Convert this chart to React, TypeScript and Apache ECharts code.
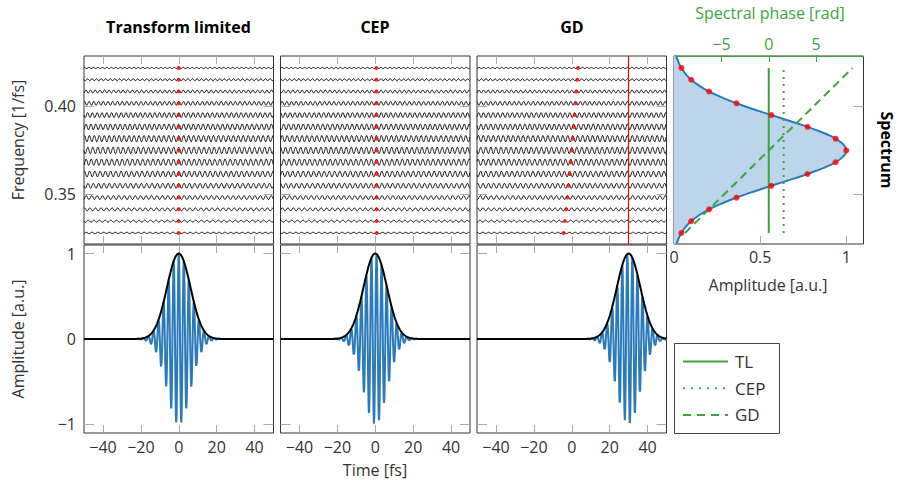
import React, { useEffect, useRef } from 'react';
import * as echarts from 'echarts';

// ---- data ----
const frequencies = [0.3281, 0.3348, 0.3415, 0.3482, 0.3549, 0.3616, 0.3683, 0.375, 0.3817, 0.3884, 0.3951, 0.4018, 0.4085, 0.4152, 0.4219]; // 1/fs
// spectral intensity as drawn in the "Spectrum" panel (the field amplitude is its square root)
const spectrum = [0.043, 0.1, 0.204, 0.363, 0.565, 0.775, 0.938, 1.0, 0.938, 0.775, 0.565, 0.363, 0.204, 0.1, 0.043];
const phaseTL = [0, 0, 0, 0, 0, 0, 0, 0, 0, 0, 0, 0, 0, 0, 0];
const phaseCEP = [1.57, 1.57, 1.57, 1.57, 1.57, 1.57, 1.57, 1.57, 1.57, 1.57, 1.57, 1.57, 1.57, 1.57, 1.57];
const phaseGD = [-8.84, -7.58, -6.32, -5.05, -3.79, -2.53, -1.26, 0, 1.26, 2.53, 3.79, 5.05, 6.32, 7.58, 8.84];
const groupDelay = 30; // fs
const spectrumEdgeBottom = [0.014, 0.3218];
const spectrumEdgeTop = [0.012, 0.4287];
const panelTitles = ['Transform limited', 'CEP', 'GD'];
const timeTicks = [-40, -20, 0, 20, 40];
const freqTicks = [0.35, 0.4];
const fieldTicks = [-1, 0, 1];
const specAmpTicks = [0, 0.5, 1];
const phaseTicks = [-5, 0, 5];
const legendNames = ['TL', 'CEP', 'GD'];

const FONT = "'Open Sans', 'Noto Sans', sans-serif";
const GREEN = '#3ca53c';
const BLUE = '#2b7bba';
const FILL = '#bcd5ea';
const RED = '#ff0000';
const TICK = '#aaaaaa';

const T_MIN = -50, T_MAX = 50;
const F_MIN = 0.3218, F_MAX = 0.4287;
const WAVE_SCALE = 0.0019;

const times: number[] = [];
for (let k = 0; k <= 1000; k++) times.push(T_MIN + k * 0.1);

const fieldAmp = spectrum.map((s) => Math.sqrt(s));

// spectral statistics derived from the read spectrum (centre and width of the intensity)
const iSum = spectrum.reduce((a, b) => a + b, 0);
const fCentre = spectrum.reduce((a, s, i) => a + s * frequencies[i], 0) / iSum;
const iVar = spectrum.reduce((a, s, i) => a + s * (frequencies[i] - fCentre) ** 2, 0) / iSum;
const fieldSigma = Math.sqrt(2 * iVar);

function phaseFit(phases: number[]) {
  const n = phases.length;
  const mf = frequencies.reduce((a, b) => a + b, 0) / n;
  const mp = phases.reduce((a, b) => a + b, 0) / n;
  let num = 0, den = 0;
  for (let i = 0; i < n; i++) { num += (frequencies[i] - mf) * (phases[i] - mp); den += (frequencies[i] - mf) ** 2; }
  const slope = num / den;
  return (f: number) => mp + slope * (f - mf);
}

// dense spectral grid for the pulse synthesis
const denseF: number[] = [];
for (let k = 0; k <= 240; k++) denseF.push(fCentre - 5 * fieldSigma + (10 * fieldSigma * k) / 240);
const denseA = denseF.map((f) => Math.exp(-((f - fCentre) ** 2) / (2 * fieldSigma ** 2)));
const denseSum = denseA.reduce((a, b) => a + b, 0);

function synth(phases: number[]) {
  const phi = phaseFit(phases);
  const ph = denseF.map((f) => phi(f));
  const field: number[][] = [];
  const env: number[][] = [];
  for (const t of times) {
    let re = 0, im = 0;
    for (let k = 0; k < denseF.length; k++) {
      const th = 2 * Math.PI * denseF[k] * t - ph[k];
      re += denseA[k] * Math.cos(th);
      im += denseA[k] * Math.sin(th);
    }
    field.push([t, re / denseSum]);
    env.push([t, Math.hypot(re, im) / denseSum]);
  }
  return { field, env };
}

function waveLine(i: number, phases: number[]) {
  return times.map((t) => [t, frequencies[i] + WAVE_SCALE * fieldAmp[i] * Math.cos(2 * Math.PI * frequencies[i] * t - phases[i])]);
}
function dots(phases: number[]) {
  return frequencies.map((f, i) => [phases[i] / (2 * Math.PI * f), f]);
}

const minus = (v: number, s: string) => (v < 0 ? '\u2212' + s.replace('-', '') : s);

function catmull(pts: number[][], steps = 12) {
  const out: number[][] = [];
  for (let i = 0; i < pts.length - 1; i++) {
    const p0 = pts[Math.max(0, i - 1)], p1 = pts[i], p2 = pts[i + 1], p3 = pts[Math.min(pts.length - 1, i + 2)];
    for (let s = 0; s < steps; s++) {
      const u = s / steps, u2 = u * u, u3 = u2 * u;
      const x = 0.5 * (2 * p1[0] + (-p0[0] + p2[0]) * u + (2 * p0[0] - 5 * p1[0] + 4 * p2[0] - p3[0]) * u2 + (-p0[0] + 3 * p1[0] - 3 * p2[0] + p3[0]) * u3);
      const y = 0.5 * (2 * p1[1] + (-p0[1] + p2[1]) * u + (2 * p0[1] - 5 * p1[1] + 4 * p2[1] - p3[1]) * u2 + (-p0[1] + 3 * p1[1] - 3 * p2[1] + p3[1]) * u3);
      out.push([x, y]);
    }
  }
  out.push(pts[pts.length - 1]);
  return out;
}

function buildOption() {
  const lefts = [84, 280.5, 477];
  const grids: any[] = [];
  lefts.forEach((l) => grids.push({ left: l, top: 56, width: 189.5, height: 188 }));
  lefts.forEach((l) => grids.push({ left: l, top: 245, width: 189.5, height: 188 }));
  grids.push({ left: 674, top: 56, width: 189.5, height: 188 });
  grids.forEach((g) => Object.assign(g, { show: true, borderColor: '#333', borderWidth: 1, backgroundColor: 'transparent' }));

  const noLine = { show: false, onZero: false };
  const tick = (len: number, values: number[], color = TICK) => ({ show: true, inside: true, length: len, customValues: values, lineStyle: { color, width: 1 } });
  const label = (show: boolean, values: number[], fmt: (v: number) => string, margin: number, color = '#333') => ({
    show, customValues: values, formatter: fmt, fontSize: 16, fontFamily: FONT, color, margin,
  });
  const fmtInt = (v: number) => minus(v, String(Math.round(v)));
  const fmtFreq = (v: number) => v.toFixed(2);
  const fmtAmp = (v: number) => String(v);

  const xAxes: any[] = [];
  const yAxes: any[] = [];
  for (let g = 0; g < 6; g++) {
    const bottomRow = g >= 3;
    xAxes.push({ type: 'value', gridIndex: g, position: 'bottom', min: T_MIN, max: T_MAX, axisLine: noLine, splitLine: { show: false },
      axisTick: tick(8, timeTicks), axisLabel: label(bottomRow, timeTicks, fmtInt, 6) });
    xAxes.push({ type: 'value', gridIndex: g, position: 'top', min: T_MIN, max: T_MAX, axisLine: noLine, splitLine: { show: false },
      axisTick: tick(8, timeTicks), axisLabel: { show: false } });
    const ymin = bottomRow ? -1.1 : F_MIN, ymax = bottomRow ? 1.1 : F_MAX;
    const yt = bottomRow ? fieldTicks : freqTicks;
    yAxes.push({ type: 'value', gridIndex: g, position: 'left', min: ymin, max: ymax, axisLine: noLine, splitLine: { show: false },
      axisTick: tick(10, yt), axisLabel: label(g % 3 === 0, yt, bottomRow ? fmtInt : fmtFreq, 8) });
    yAxes.push({ type: 'value', gridIndex: g, position: 'right', min: ymin, max: ymax, axisLine: noLine, splitLine: { show: false },
      axisTick: tick(10, yt), axisLabel: { show: false } });
  }
  // spectrum panel
  xAxes.push({ type: 'value', gridIndex: 6, position: 'bottom', min: 0, max: 1.1, axisLine: noLine, splitLine: { show: false },
    axisTick: tick(8, specAmpTicks), axisLabel: label(true, specAmpTicks, fmtAmp, 5) });
  xAxes.push({ type: 'value', gridIndex: 6, position: 'top', min: -10, max: 10, axisLine: { show: true, onZero: false, lineStyle: { color: GREEN, width: 1 } }, splitLine: { show: false },
    axisTick: tick(6, phaseTicks, GREEN), axisLabel: label(true, phaseTicks, fmtInt, 4, GREEN) });
  yAxes.push({ type: 'value', gridIndex: 6, position: 'left', min: F_MIN, max: F_MAX, axisLine: noLine, splitLine: { show: false },
    axisTick: tick(10, freqTicks), axisLabel: { show: false } });
  yAxes.push({ type: 'value', gridIndex: 6, position: 'right', min: F_MIN, max: F_MAX, axisLine: noLine, splitLine: { show: false },
    axisTick: tick(10, freqTicks), axisLabel: { show: false } });

  const series: any[] = [];
  const phaseSets = [phaseTL, phaseCEP, phaseGD];
  phaseSets.forEach((ph, p) => {
    for (let i = 0; i < frequencies.length; i++) {
      series.push({ type: 'line', xAxisIndex: 2 * p, yAxisIndex: 2 * p, data: waveLine(i, ph), symbol: 'none', silent: true,
        lineStyle: { color: '#111', width: 1 }, z: 3 });
    }
    const sc: any = { type: 'scatter', xAxisIndex: 2 * p, yAxisIndex: 2 * p, data: dots(ph), symbolSize: 4, itemStyle: { color: RED }, silent: true, z: 5 };
    if (p === 2) {
      sc.markLine = { silent: true, symbol: ['none', 'none'], label: { show: false }, lineStyle: { color: RED, width: 1.2, type: 'solid' }, data: [{ xAxis: groupDelay }] };
    }
    series.push(sc);
    const g = 3 + p;
    const { field, env } = synth(ph);
    series.push({ type: 'line', xAxisIndex: 2 * g, yAxisIndex: 2 * g, data: field, symbol: 'none', silent: true, lineStyle: { color: BLUE, width: 2 }, z: 3 });
    series.push({ type: 'line', xAxisIndex: 2 * g, yAxisIndex: 2 * g, data: env, symbol: 'none', silent: true, lineStyle: { color: '#000', width: 2 }, z: 4 });
  });

  // spectrum fill + curve
  const specPts = [spectrumEdgeBottom, ...frequencies.map((f, i) => [spectrum[i], f]), spectrumEdgeTop];
  series.push({
    type: 'custom', xAxisIndex: 12, yAxisIndex: 12, data: [[0, F_MIN]], silent: true, z: 2,
    renderItem: (_params: any, api: any) => {
      const px = specPts.map((p) => api.coord(p));
      const curve = catmull(px);
      const poly = [...curve, api.coord([0, spectrumEdgeTop[1]]), api.coord([0, spectrumEdgeBottom[1]])];
      return {
        type: 'group',
        children: [
          { type: 'polygon', shape: { points: poly }, style: { fill: FILL, stroke: 'none' } },
          { type: 'polyline', shape: { points: curve }, style: { fill: 'none', stroke: BLUE, lineWidth: 2 } },
        ],
      };
    },
  });
  const phaseStyles = [
    { type: 'solid', width: 2 },
    { type: [2, 5], width: 2 },
    { type: [8, 5], width: 2 },
  ];
  phaseSets.forEach((ph, p) => {
    series.push({ type: 'line', xAxisIndex: 13, yAxisIndex: 12, data: frequencies.map((f, i) => [ph[i], f]), symbol: 'none', silent: true,
      lineStyle: { color: GREEN, ...phaseStyles[p] }, z: 4 });
  });
  series.push({ type: 'scatter', xAxisIndex: 12, yAxisIndex: 12, data: frequencies.map((f, i) => [spectrum[i], f]), symbolSize: 6,
    itemStyle: { color: RED }, silent: true, z: 6 });

  const txt = (text: string, x: number, y: number, opts: any = {}) => ({
    type: 'text', x, y, rotation: opts.rotation || 0, silent: true,
    style: { text, x: 0, y: 0, align: 'center', verticalAlign: 'middle', fontSize: opts.size || 16, fontWeight: opts.bold ? 'bold' : 'normal',
      fontFamily: FONT, fill: opts.color || '#333' },
  });

  const graphic: any[] = [
    txt(panelTitles[0], 178.5, 27, { bold: true, color: '#000' }),
    txt(panelTitles[1], 375, 27, { bold: true, color: '#000' }),
    txt(panelTitles[2], 572, 27, { bold: true, color: '#000' }),
    txt('Frequency [1/fs]', 18, 140, { rotation: Math.PI / 2 }),
    txt('Amplitude [a.u.]', 18, 339, { rotation: Math.PI / 2 }),
    txt('Time [fs]', 375, 470),
    txt('Amplitude [a.u.]', 768, 285),
    txt('Spectral phase [rad]', 770, 13, { color: GREEN }),
    txt('Spectrum', 887, 150, { rotation: -Math.PI / 2, bold: true, color: '#000' }),
    { type: 'rect', shape: { x: 674.5, y: 343.5, width: 105, height: 90 }, style: { fill: '#fff', stroke: '#444', lineWidth: 1 }, silent: true },
  ];
  const legendDash: any[] = [null, [2, 6], [8, 6]];
  legendNames.forEach((n, k) => {
    const y = 361.5 + k * 26.7;
    graphic.push({ type: 'line', shape: { x1: 683, y1: y, x2: 728, y2: y }, style: { stroke: GREEN, lineWidth: 2, lineDash: legendDash[k] }, silent: true });
    graphic.push({ type: 'text', x: 735, y, silent: true, style: { text: n, x: 0, y: 0, align: 'left', verticalAlign: 'middle', fontSize: 17, fontFamily: FONT, fill: '#333' } });
  });

  return { animation: false, backgroundColor: '#fff', grid: grids, xAxis: xAxes, yAxis: yAxes, series, graphic };
}

export default function App() {
  const ref = useRef<HTMLDivElement>(null);
  useEffect(() => {
    if (!ref.current) return;
    const chart = echarts.init(ref.current, null, { renderer: 'svg' });
    chart.setOption(buildOption() as any);
    return () => chart.dispose();
  }, []);
  return <div ref={ref} style={{ position: 'fixed', left: 0, top: 0, width: 901, height: 488 }} />;
}
